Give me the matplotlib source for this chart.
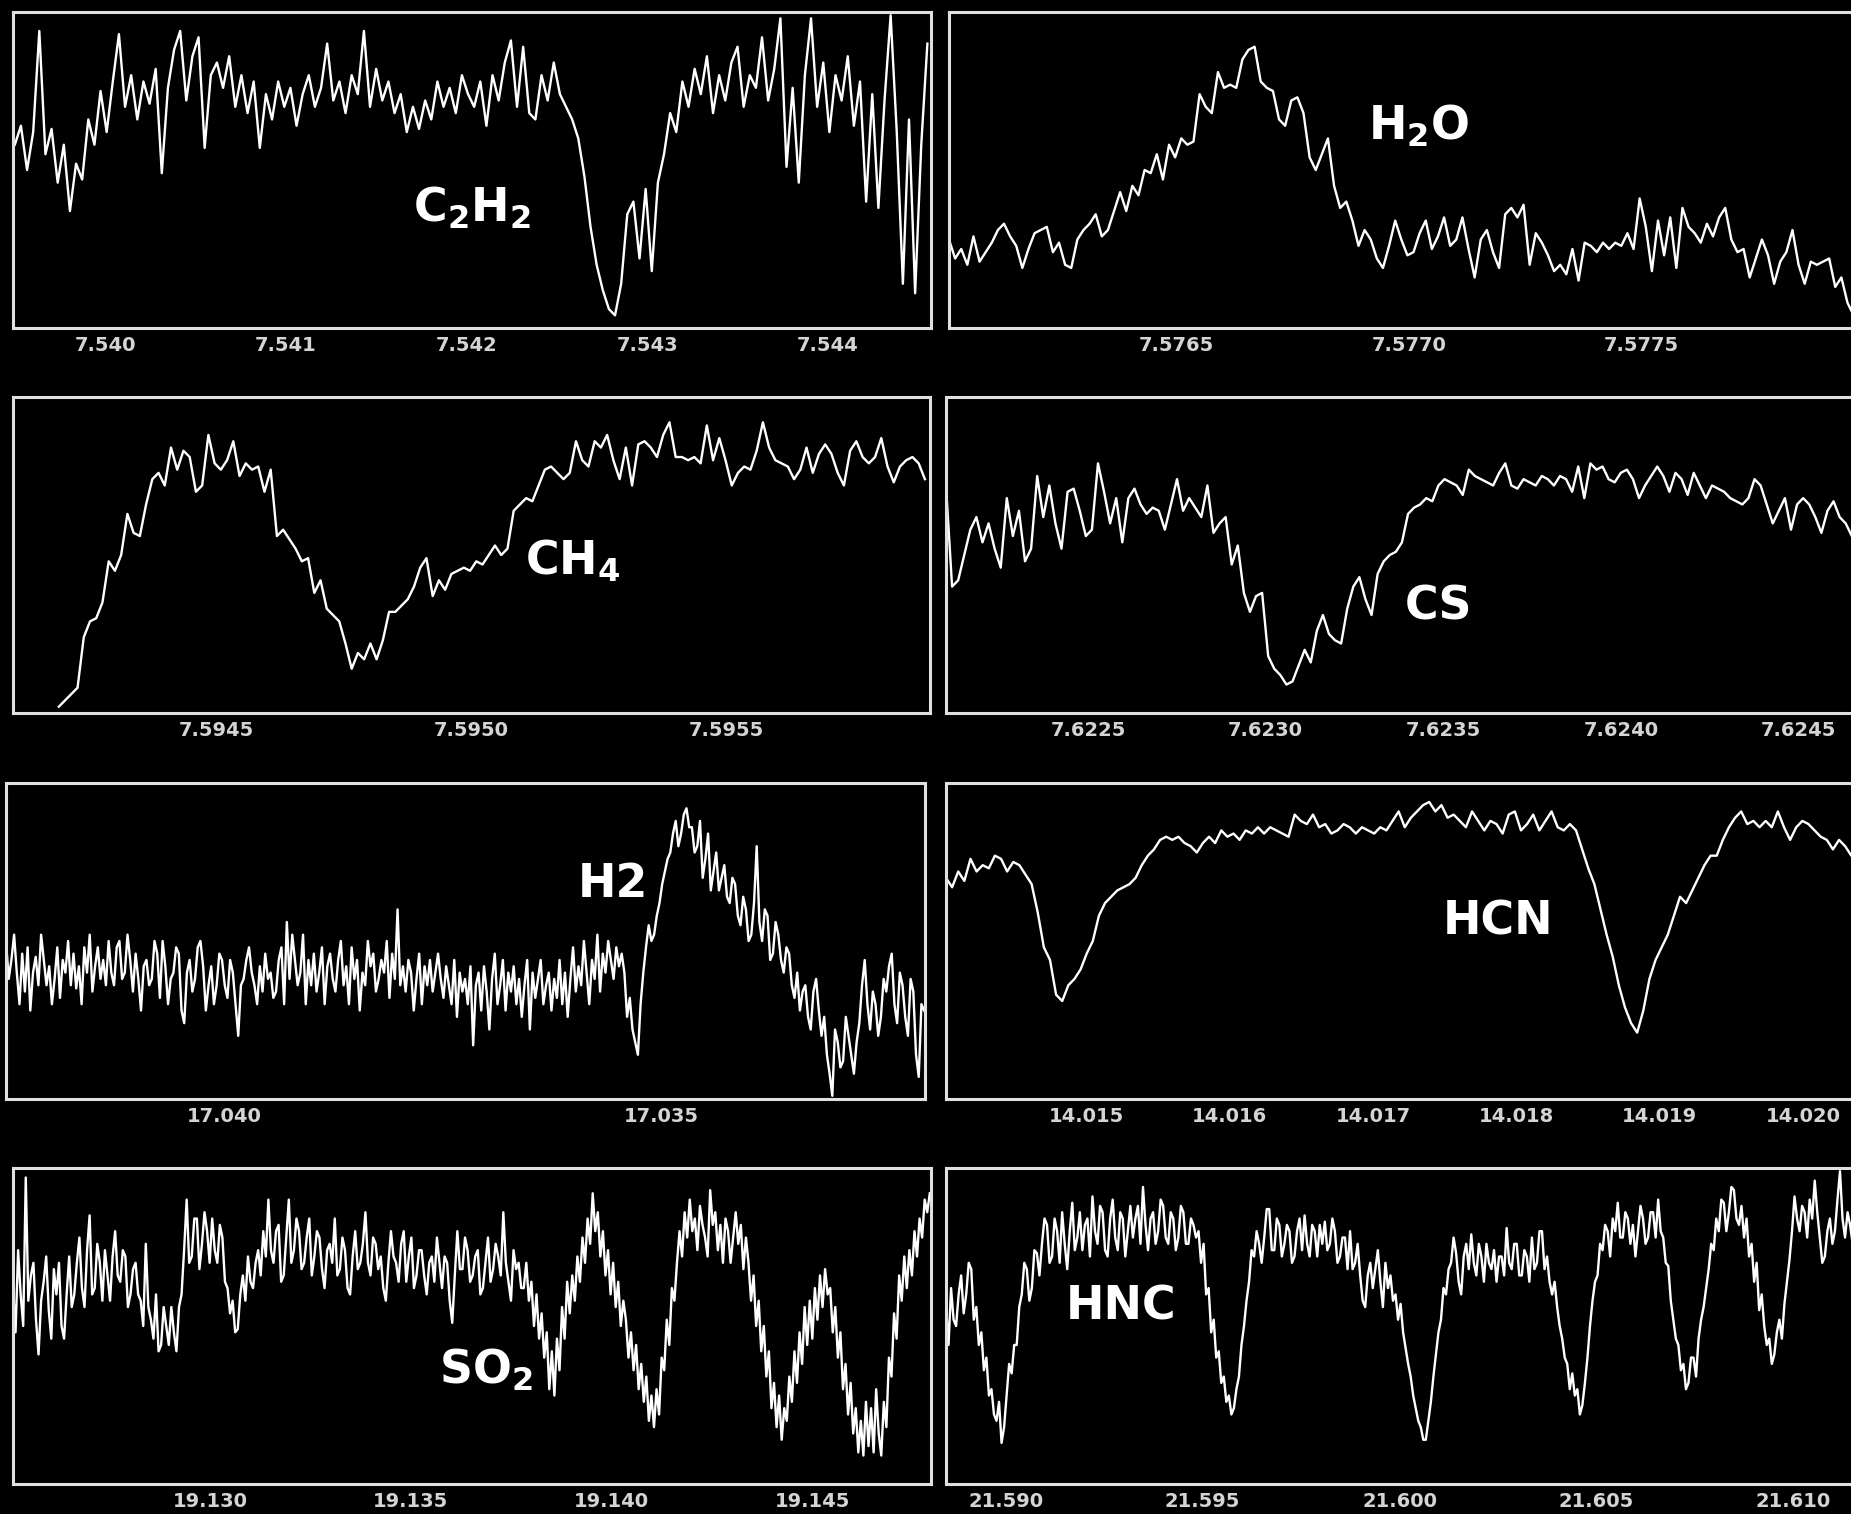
import numpy as np
import matplotlib
matplotlib.use("Agg")
import matplotlib.pyplot as plt
from matplotlib.ticker import FormatStrFormatter

plt.rcParams['font.family'] = ['DejaVu Sans']
plt.rcParams['font.weight'] = 'bold'
plt.rcParams['mathtext.fontset'] = 'dejavusans'

# ---- spectra (flux in arbitrary units, 0 = bottom of the box, 100 = top) ----
c2h2_range = (7.53950, 7.54455)
c2h2_flux = [58, 64, 50, 62, 94, 55, 63, 46, 58, 37, 52,
             47, 66, 58, 75, 62, 78, 93,
             70, 80, 66, 78, 71, 82, 49, 76, 88, 94, 72, 86, 92, 57, 80, 84, 76, 86, 70, 80, 68, 78, 57, 74,
             66, 78, 70, 76, 64, 74, 80, 70, 76, 90, 72, 78, 68, 80, 74, 94, 70, 82, 72, 78, 68, 74, 62, 70,
             63, 72, 66, 78, 70, 76, 68, 80, 74, 70, 78, 64, 80, 72, 84, 91, 70, 89, 68, 66, 80, 72, 84, 74, 70,
             66, 60, 48, 32, 20, 12, 6, 4, 14, 36, 40, 22, 44, 18, 46, 55, 68, 62,
             78, 70, 82, 74, 86, 68, 80, 72, 84, 89, 70, 80, 76, 92, 72, 82, 98, 51, 76, 46, 80, 98, 70, 84,
             62, 80, 72, 86, 64, 78, 40, 74, 38, 72,
             99, 62, 14, 66, 11, 58, 90]

h2o_range = (7.57601, 7.57797)
h2o_flux = [28, 22, 25, 20, 29, 21, 24, 27, 31, 33, 29, 26, 19, 25, 30, 31, 32, 24, 27, 20, 19, 28, 31,
            33, 36, 29, 31, 37, 43, 37, 45, 42, 50, 49, 55, 47, 58, 54, 60, 58, 59,
            74, 70, 68, 81, 76, 77, 76, 85, 88, 89,
            78, 76, 75, 66, 64, 72, 73, 68, 54, 50, 55, 60, 45, 38, 40, 34, 26, 31, 28, 22,
            19, 26, 34, 28, 23, 24, 30, 34, 25, 29, 35, 26, 28, 35, 25, 16, 28, 31, 24, 19,
            36, 38, 35, 39, 20, 30, 27, 23, 18, 20, 17, 25, 15, 27, 26, 24, 27, 25, 27, 26,
            30, 25, 41, 32, 18, 34, 23, 35, 19, 38, 32, 30, 27, 33, 29, 35, 38, 28, 24, 25,
            16, 22, 28, 23, 14, 21, 24, 31, 20, 14, 21, 20, 21, 22, 13, 16, 8, 4, 5]

ch4_range = (7.59419, 7.59589)
ch4_flux = [2, 4, 6, 8, 24, 29, 30, 35, 48, 45, 50, 63, 57, 56, 66, 74, 76, 72, 84, 77,
            83, 81, 70, 72, 88, 79, 77, 80, 86, 75, 79, 77, 78, 70, 77, 56, 58, 55, 52, 48,
            49, 38, 42, 33, 31, 29, 22, 14, 19, 17, 22, 17, 23, 32, 32, 34, 36, 40, 46, 49,
            37, 42, 39, 44, 45, 46, 45, 48, 47, 50, 53, 50, 52, 64, 66, 68, 67, 72, 77, 78,
            76, 74, 76, 86, 80, 78, 86, 84, 88, 80, 74, 84, 72, 85, 86, 84, 81, 88, 92, 81,
            81, 80, 81, 79, 91, 80, 87, 80, 72, 76, 78, 77, 83, 92, 84, 80, 79, 78, 74, 77,
            84, 76, 82, 85, 82, 76, 72, 83, 86, 81, 79, 81, 87, 78, 73, 78, 80, 81, 79, 74]

cs_range = (7.62210, 7.62465)
cs_flux = [72, 40, 42, 50, 58, 62, 54, 60, 52, 46, 68, 56, 64, 48, 52, 75, 62, 72, 60, 52,
           70, 71, 64, 56, 58, 79, 70, 60, 68, 54, 68, 71, 66, 63, 65, 64, 58, 66, 74, 64,
           68, 65, 62, 72, 57, 60, 62, 47, 53, 38, 32, 37, 38, 18, 14, 12, 9, 10, 15, 20,
           16, 26, 31, 25, 23, 22, 33, 40, 43, 36, 31, 44, 48, 50, 51, 54, 63, 65, 66, 68,
           67, 72, 74, 73, 72, 69, 77, 75, 74, 73, 72, 76, 79, 72, 71, 74, 73, 72, 75, 74,
           72, 75, 74, 70, 78, 68, 79, 77, 78, 74, 73, 76, 77, 74, 68, 72, 75, 78, 75, 70,
           76, 74, 69, 76, 72, 68, 72, 71, 70, 68, 67, 66, 68, 74, 72, 66, 60, 64, 68, 58,
           66, 68, 66, 62, 57, 64, 67, 62, 60, 56]

h2_range = (17.0425, 17.0320)
h2_flux = [50, 38, 44, 52, 40, 30, 46, 34, 48, 28, 40, 45, 36, 52, 44, 36, 42, 30, 38, 48,
           32, 44, 40, 50, 36, 46, 35, 42, 30, 48, 40, 52, 34, 42, 48, 38, 44, 36, 50, 40,
           36, 48, 50, 38, 40, 52, 44, 34, 46, 38, 28, 42, 44, 36, 38, 50, 46, 32, 50, 42,
           30, 38, 40, 48, 46, 28, 24, 40, 44, 34, 38, 48, 50, 42, 28, 36, 42, 30, 36, 46,
           44, 36, 32, 44, 40, 30, 20, 36, 38, 44, 48, 40, 36, 30, 42, 34, 46, 38, 40, 32,
           34, 44, 48, 30, 56, 38, 52, 44, 36, 40, 52, 30, 44, 36, 46, 34, 40, 48, 30, 42,
           46, 38, 34, 44, 50, 36, 42, 30, 48, 38, 44, 28, 40, 36, 50, 42, 46, 34, 38, 44,
           40, 50, 32, 46, 38, 60, 36, 42, 34, 44, 40, 28, 38, 46, 30, 42, 36, 44, 34, 40,
           46, 38, 32, 42, 36, 30, 44, 26, 40, 34, 38, 30, 42, 17, 36, 40, 28, 42, 34, 22,
           38, 46, 30, 36, 44, 28, 40, 34, 42, 30, 38, 26, 36, 44, 22, 40, 32, 38, 44, 30,
           36, 40, 28, 38, 32, 44, 30, 40, 26, 38, 48, 34, 42, 36, 50, 40, 30, 44, 38, 52,
           34, 46, 40, 50, 44, 38, 48, 42, 46, 40,
           26, 32, 22, 18, 14, 30, 40, 48, 55, 50, 52, 58, 62, 68, 72, 76, 78, 84, 88, 80,
           84, 90, 92, 86, 86, 78, 80, 88, 70, 76, 84, 66, 72, 78, 66, 70, 74, 64, 62, 70,
           68, 58, 55, 64, 60, 50, 52, 62, 80, 56, 50, 60, 58, 44, 46, 56, 52, 44, 40, 48,
           46, 36, 32, 40, 28, 34, 36, 26, 22, 34, 38, 28, 20, 26, 14, 8, 1, 22, 18, 10,
           12, 26, 20, 14, 8, 18, 24, 36, 44, 30, 22, 34, 30, 20, 26, 38, 34, 42, 46, 30,
           24, 40, 36, 26, 20, 38, 34, 14, 7, 30, 28]

hcn_range = (14.01402, 14.02038)
hcn_flux = [70, 67, 72, 69, 76, 72, 74, 73, 77, 76, 72, 75, 74, 71, 68, 59, 48, 44, 33, 31,
            36, 38, 41, 46, 50, 58, 62, 64, 66, 67, 68, 70, 74, 77, 79, 82, 83, 82, 83, 81,
            80, 78, 81, 83, 81, 85, 83, 84, 82, 85, 84, 86, 84, 86, 85, 84, 83, 90, 88, 87,
            90, 86, 87, 84, 85, 87, 86, 84, 86, 85, 84, 86, 85, 88, 91, 86, 89, 91, 93, 94,
            91, 93, 89, 90, 88, 86, 91, 88, 85, 88, 87, 84, 90, 91, 85, 87, 90, 85, 88, 91,
            86, 85, 87, 85, 79, 73, 68, 60, 52, 45, 36, 29, 24, 21, 28, 38, 44, 48, 52, 58,
            64, 62, 66, 70, 74, 77, 77, 82, 86, 89, 91, 87, 88, 86, 88, 86, 91, 86, 82, 86,
            88, 87, 85, 83, 82, 79, 82, 80, 77, 79]

so2_range = (19.12509, 19.14793)
so2_flux = [62, 48, 74, 60, 50, 97, 58, 66, 70, 52, 41, 58, 64, 72, 55, 46, 68, 60, 70, 50,
            46, 60, 72, 56, 60, 70, 78, 62, 56, 74, 85, 60, 62, 76, 70, 58, 74, 66, 58, 72,
            80, 66, 64, 74, 72, 56, 60, 68, 70, 60, 58, 50, 76, 56, 52, 46, 60, 42, 44, 56,
            50, 44, 56, 48, 42, 56, 60, 74, 90, 70, 72, 84, 84, 68, 76, 86, 80, 70, 84, 74,
            70, 82, 78, 64, 62, 54, 58, 48, 49, 60, 66, 58, 72, 64, 62, 70, 74, 66, 80, 72,
            90, 74, 70, 80, 82, 64, 66, 78, 90, 70, 74, 84, 80, 68, 70, 78, 84, 66, 72, 80,
            78, 68, 62, 74, 76, 70, 84, 66, 68, 78, 74, 62, 60, 72, 80, 68, 70, 76, 86, 70,
            66, 78, 76, 68, 72, 62, 58, 70, 80, 72, 70, 64, 76, 80, 64, 72, 78, 62, 66, 74,
            74, 66, 60, 70, 72, 64, 78, 70, 62, 72, 70, 58, 51, 66, 80, 68, 68, 78, 74, 64,
            66, 72, 74, 60, 62, 70, 78, 64, 68, 76, 72, 66, 86, 70, 64, 58, 74, 68, 70, 62,
            62, 70, 58, 64, 50, 60, 46, 54, 40, 48, 30, 42, 28, 46, 36, 56, 46, 64, 54, 66,
            58, 72, 64, 78, 70, 84, 76, 92, 80, 86, 72, 80, 66, 74, 60, 70, 56, 64, 50, 58,
            52, 40, 48, 36, 44, 30, 38, 26, 34, 20, 28, 18, 30, 22, 40, 36, 52, 44, 62, 58,
            70, 80, 72, 86, 78, 90, 80, 84, 74, 88, 82, 78, 72, 93, 82, 86, 74, 82, 70, 84,
            80, 70, 78, 86, 76, 82, 68, 78, 70, 58, 66, 50, 58, 42, 50, 34, 42, 24, 32, 18,
            28, 14, 24, 20, 34, 26, 42, 32, 48, 38, 56, 44, 58, 46, 62, 52, 66, 56, 68, 60,
            62, 48, 56, 40, 48, 30, 38, 22, 32, 16, 24, 10, 20, 9, 26, 12, 24, 10, 30, 16,
            9, 26, 18, 40, 34, 54, 46, 66, 58, 72, 62, 74, 66, 80, 72, 84, 78, 90, 86, 92]

hnc_range = (21.58848, 21.61151)
hnc_flux = [56, 44, 62, 52, 50, 60, 66, 54, 60, 70, 68, 52, 56, 44, 48, 36, 40, 28, 30, 22,
            20, 26, 13, 18, 28, 38, 35, 44, 44, 56, 60, 70, 68, 58, 62, 74, 73, 66, 76, 84,
            82, 70, 72, 84, 80, 70, 86, 76, 68, 80, 89, 74, 78, 86, 74, 82, 84, 72, 91, 80,
            76, 88, 86, 74, 72, 84, 90, 78, 74, 86, 84, 72, 80, 88, 78, 84, 88, 76, 94, 82,
            74, 84, 86, 76, 80, 90, 88, 78, 76, 86, 84, 74, 78, 88, 86, 76, 76, 84, 82, 78,
            80, 70, 76, 60, 62, 48, 52, 40, 42, 32, 34, 26, 28, 22, 24, 30, 34, 44, 50, 58,
            64, 74, 72, 80, 76, 70, 78, 87, 87, 74, 74, 84, 82, 72, 76, 82, 80, 70, 72, 80,
            84, 74, 85, 76, 72, 82, 80, 72, 82, 76, 83, 74, 76, 84, 80, 70, 72, 78, 78, 68,
            80, 68, 70, 76, 66, 58, 56, 66, 70, 62, 68, 74, 64, 56, 70, 62, 66, 58, 60, 52,
            57, 48, 43, 38, 34, 28, 24, 20, 18, 14, 14, 20, 26, 34, 41, 48, 52, 62, 60, 68,
            70, 78, 73, 64, 60, 72, 76, 68, 79, 70, 66, 76, 72, 64, 76, 70, 68, 74, 64, 72,
            72, 66, 81, 70, 68, 76, 76, 66, 66, 74, 72, 64, 78, 68, 70, 80, 80, 68, 72, 64,
            60, 64, 56, 50, 46, 40, 38, 30, 35, 28, 30, 22, 25, 32, 40, 50, 58, 64, 66, 76,
            74, 82, 80, 72, 84, 80, 89, 78, 78, 86, 84, 76, 82, 72, 80, 88, 84, 76, 78, 86,
            86, 78, 90, 80, 78, 70, 69, 58, 52, 46, 44, 36, 38, 30, 32, 40, 40, 34, 46, 52,
            56, 62, 68, 76, 74, 84, 80, 90, 89, 80, 86, 94, 93, 84, 82, 88, 78, 84, 72, 76,
            64, 70, 55, 60, 50, 44, 46, 38, 41, 48, 52, 46, 57, 64, 71, 80, 91, 84, 80, 88,
            86, 78, 90, 84, 96, 86, 78, 70, 72, 80, 84, 76, 80, 90, 99, 84, 78, 86, 82, 76]

# ---- panel setup ----
panels = [
    # flux, data range, xlim, ticks, fmt, label, label xy, axes rect in px (left, top, width)
    (c2h2_flux, c2h2_range, (7.53949, 7.54457), [7.540, 7.541, 7.542, 7.543, 7.544], '%.3f',
     r'$\mathbf{C_2H_2}$', (0.50, 0.38), (13, 12, 918)),
    (h2o_flux, h2o_range, (7.57601, 7.57799), [7.5765, 7.5770, 7.5775], '%.4f',
     r'$\mathbf{H_2O}$', (0.51, 0.64), (949, 12, 920)),
    (ch4_flux, ch4_range, (7.59410, 7.59590), [7.5945, 7.5950, 7.5955], '%.4f',
     r'$\mathbf{CH_4}$', (0.61, 0.48), (13, 397, 917)),
    (cs_flux, cs_range, (7.62210, 7.62469), [7.6225, 7.6230, 7.6235, 7.6240, 7.6245], '%.4f',
     'CS', (0.535, 0.335), (946, 397, 920)),
    (h2_flux, h2_range, (17.0425, 17.03199), [17.040, 17.035], '%.3f',
     'H2', (0.66, 0.68), (6, 783, 919)),
    (hcn_flux, hcn_range, (14.01402, 14.02044), [14.015, 14.016, 14.017, 14.018, 14.019, 14.020], '%.3f',
     'HCN', (0.60, 0.56), (946, 783, 920)),
    (so2_flux, so2_range, (19.12509, 19.14796), [19.130, 19.135, 19.140, 19.145], '%.3f',
     r'$\mathbf{SO_2}$', (0.515, 0.36), (13, 1168, 918)),
    (hnc_flux, hnc_range, (21.58848, 21.61185), [21.590, 21.595, 21.600, 21.605, 21.610], '%.3f',
     'HNC', (0.19, 0.56), (946, 1168, 920)),
]

W, H = 1851, 1514
fig = plt.figure(figsize=(W / 100, H / 100), dpi=100, facecolor='black')

for flux, rng, xlim, ticks, fmt, name, lxy, rect in panels:
    left, top, width = rect
    ax = fig.add_axes([left / W, 1 - (top + 316) / H, width / W, 316 / H])
    ax.set_facecolor('black')
    wl = np.linspace(rng[0], rng[1], len(flux))
    ax.plot(wl, flux, color='white', lw=1.7)
    ax.set_xlim(*xlim)
    ax.set_ylim(0, 100)
    ax.set_yticks([])
    ax.set_xticks(ticks)
    ax.xaxis.set_major_formatter(FormatStrFormatter(fmt))
    ax.tick_params(axis='x', length=0, pad=6, labelsize=14, labelcolor='#d4d4d4')
    for s in ax.spines.values():
        s.set_color('#e0e0e0')
        s.set_linewidth(2.2)
    ax.text(lxy[0], lxy[1], name, transform=ax.transAxes, color='white',
            fontsize=33, fontweight='bold', ha='center', va='center')

fig.savefig('out.png', dpi=100, facecolor='black')
